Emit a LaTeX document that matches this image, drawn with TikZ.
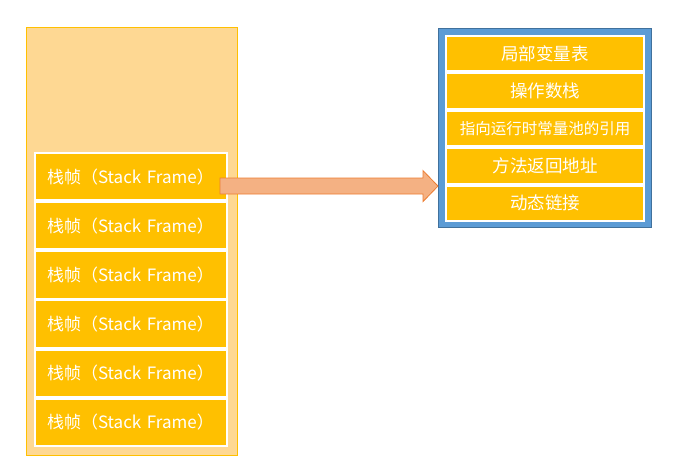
\documentclass[tikz,border=0pt]{standalone}
\usepackage{fontspec}
\setmainfont{Noto Sans CJK SC}
\usetikzlibrary{positioning}
\definecolor{gold}{HTML}{FFC000}
\definecolor{paleGold}{HTML}{FED893}
\definecolor{steel}{HTML}{5B9BD5}
\definecolor{steelDark}{HTML}{41719C}
\definecolor{salmon}{HTML}{F4B183}
\definecolor{salmonDark}{HTML}{ED7D31}
\tikzset{
  stackbox/.style={rectangle,fill=paleGold,draw=gold,line width=1pt,minimum width=211pt,minimum height=427pt},
  framebox/.style={rectangle,fill=gold,draw=white,line width=2pt,text=white,font=\fontsize{17}{18}\selectfont,
    text width=168pt,align=left,inner xsep=12pt,inner ysep=0pt,minimum height=47.2pt},
  detailbox/.style={rectangle,fill=steel,draw=steelDark,line width=1pt,minimum width=213pt,minimum height=199pt},
  partbox/.style={rectangle,fill=gold,draw=white,line width=2pt,text=white,font=\fontsize{17.5}{18}\selectfont,
    minimum width=198pt,minimum height=35.4pt,inner sep=0pt},
  bigarrow/.style={fill=salmon,draw=salmonDark,line width=0.8pt,line join=miter}
}
\begin{document}
\begin{tikzpicture}[x=1pt,y=-1pt]
    \useasboundingbox (0,0) rectangle (680,468);
    % thread stack
    \node[stackbox] (stack) at (131.5,241.5){};
    \foreach \i in {1,...,6}
        \node[framebox] (f\i) at (131,{152+49.17*(\i-0.5)}){栈帧（Stack Frame）};
    % one frame in detail
    \node[detailbox] (detail) at (545,128){};
    \node[partbox] (p1) at (545,53.7){局部变量表};
    \node[partbox] (p2) at (545,91.1){操作数栈};
    \node[partbox,font=\fontsize{15.5}{17}\selectfont] (p3) at (545,128.5){指向运行时常量池的引用};
    \node[partbox] (p4) at (545,165.9){方法返回地址};
    \node[partbox] (p5) at (545,203.3){动态链接};
    % arrow
    \coordinate (tail) at ([xshift=-8pt,yshift=-9.5pt]f1.east);
    \coordinate (tip) at (detail.west |- tail);
    \draw[bigarrow] ([yshift=8pt]tail) -- ([xshift=-15pt,yshift=8pt]tip) -- ([xshift=-15pt,yshift=15.5pt]tip) -- (tip)
        -- ([xshift=-15pt,yshift=-15.5pt]tip) -- ([xshift=-15pt,yshift=-8pt]tip) -- ([yshift=-8pt]tail) -- cycle;
\end{tikzpicture}
\end{document}
